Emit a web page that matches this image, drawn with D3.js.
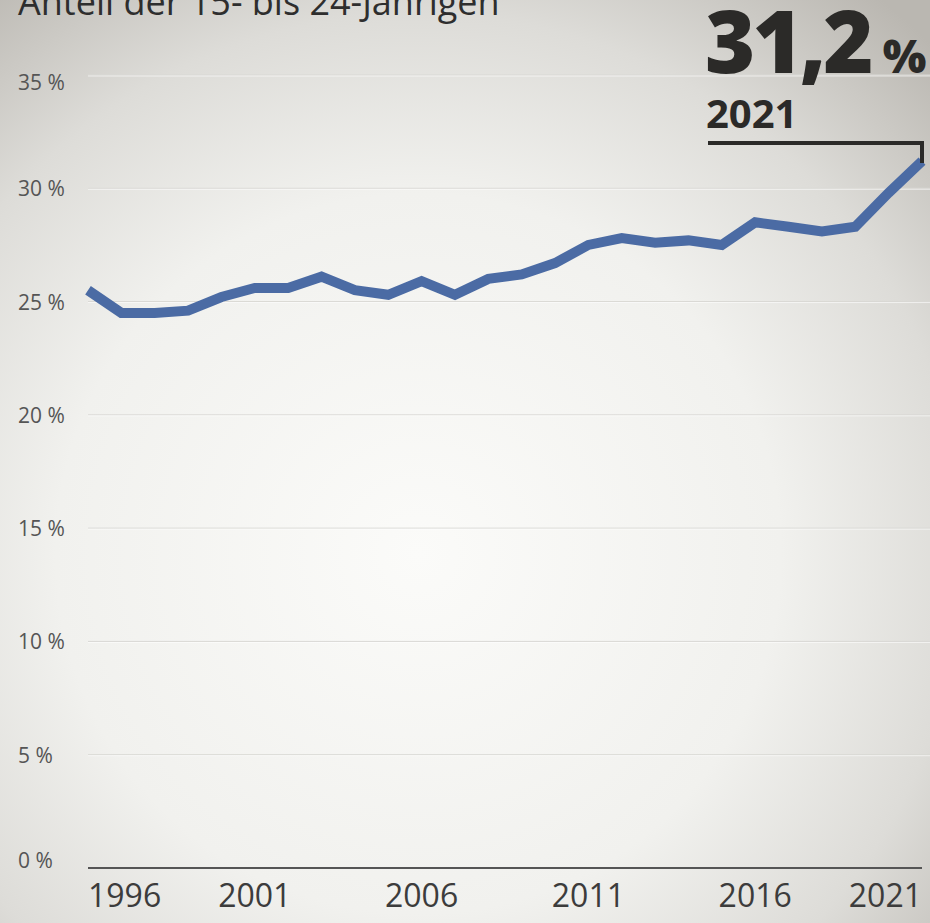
<!DOCTYPE html>
<html>
<head>
<meta charset="utf-8">
<script src="https://cdn.jsdelivr.net/npm/d3@7"></script>
<style>
  html, body { margin: 0; padding: 0; overflow: hidden; }
  svg { display: block; }
</style>
</head>
<body>
<svg id="chart" width="930" height="923"></svg>
<script>
// Anteil der 15- bis 24-Jährigen, 1996-2021
var years = [1996, 1997, 1998, 1999, 2000, 2001, 2002, 2003, 2004, 2005, 2006, 2007, 2008,
             2009, 2010, 2011, 2012, 2013, 2014, 2015, 2016, 2017, 2018, 2019, 2020, 2021];
var shares = [25.5, 24.5, 24.5, 24.6, 25.2, 25.6, 25.6, 26.1, 25.5, 25.3, 25.9, 25.3, 26.0,
              26.2, 26.7, 27.5, 27.8, 27.6, 27.7, 27.5, 28.5, 28.3, 28.1, 28.3, 29.8, 31.2];
var yTicks = [0, 5, 10, 15, 20, 25, 30, 35];
var xTicks = [1996, 2001, 2006, 2011, 2016, 2021];
var title = "Anteil der 15- bis 24-Jährigen";
var highlight = {value: "31,2", year: "2021"};

var svg = d3.select("#chart");
var width = +svg.attr("width"), height = +svg.attr("height");
var margin = {top: 75, right: 8, bottom: 55, left: 88};

// background
var defs = svg.append("defs");
var grad = defs.append("radialGradient")
    .attr("id", "bg")
    .attr("cx", "45%").attr("cy", "60%").attr("r", "78%");
grad.append("stop").attr("offset", "0%").attr("stop-color", "#fbfbf9");
grad.append("stop").attr("offset", "50%").attr("stop-color", "#f1f1ee");
grad.append("stop").attr("offset", "75%").attr("stop-color", "#dddcd8");
grad.append("stop").attr("offset", "100%").attr("stop-color", "#bab7b1");
svg.append("rect").attr("width", width).attr("height", height).attr("fill", "url(#bg)");

var x = d3.scaleLinear().domain([1996, 2021]).range([margin.left, width - margin.right]);
var y = d3.scaleLinear().domain([0, 35]).range([height - margin.bottom, margin.top]);

// grid
var grid = svg.append("g")
    .selectAll("g")
    .data(yTicks.filter(function(d) { return d > 0; }))
    .enter().append("g");
grid.append("line")
    .attr("x1", margin.left).attr("x2", width)
    .attr("y1", function(d) { return y(d); }).attr("y2", function(d) { return y(d); })
    .attr("stroke", "#d9d8d4").attr("stroke-width", 1);
grid.append("line")
    .attr("x1", margin.left).attr("x2", width)
    .attr("y1", function(d) { return y(d) + 1; }).attr("y2", function(d) { return y(d) + 1; })
    .attr("stroke", "#ffffff").attr("stroke-opacity", 0.6).attr("stroke-width", 1);

// y labels
svg.append("g")
    .selectAll("text")
    .data(yTicks)
    .enter().append("text")
    .attr("x", 18)
    .attr("y", function(d) { return d === 35 ? y(d) + 15 : (d === 0 ? y(d) : y(d) + 8); })
    .attr("font-family", "Open Sans")
    .attr("font-size", 21)
    .attr("fill", "#555")
    .text(function(d) { return d + " %"; });

// baseline
svg.append("line")
    .attr("x1", margin.left).attr("x2", width - margin.right)
    .attr("y1", y(0)).attr("y2", y(0))
    .attr("stroke", "#555").attr("stroke-width", 2);

// x labels
svg.append("g")
    .selectAll("text")
    .data(xTicks)
    .enter().append("text")
    .attr("x", function(d) { return x(d); })
    .attr("y", 907)
    .attr("text-anchor", function(d, i) { return i === 0 ? "start" : (i === xTicks.length - 1 ? "end" : "middle"); })
    .attr("font-family", "Open Sans")
    .attr("font-size", 32)
    .attr("fill", "#3c3c3c")
    .text(function(d) { return d; });

// line
var data = years.map(function(d, i) { return {year: d, value: shares[i]}; });
svg.append("path")
    .datum(data)
    .attr("fill", "none")
    .attr("stroke", "#4b6ba4")
    .attr("stroke-width", 10)
    .attr("stroke-linejoin", "miter")
    .attr("d", d3.line().x(function(d) { return x(d.year); }).y(function(d) { return y(d.value); }));

// title (cut at top)
svg.append("text")
    .attr("x", 18).attr("y", 15)
    .attr("font-family", "Open Sans")
    .attr("font-size", 36)
    .attr("font-weight", 500)
    .attr("fill", "#2e2e2e")
    .text(title);

// highlight annotation
var last = data[data.length - 1];
var ax = x(last.year);
var ann = svg.append("g");
var big = ann.append("text")
    .attr("x", 705).attr("y", 73)
    .attr("font-family", "Open Sans")
    .attr("font-weight", 800)
    .attr("fill", "#2b2a28");
big.append("tspan").attr("font-size", 86).attr("letter-spacing", -3).text(highlight.value);
big.append("tspan").attr("font-size", 46).attr("dx", 12).text("%");
ann.append("text")
    .attr("x", 706).attr("y", 128)
    .attr("font-family", "Open Sans")
    .attr("font-weight", 700)
    .attr("font-size", 40)
    .attr("fill", "#2b2a28")
    .text(highlight.year);
ann.append("path")
    .attr("d", "M708,143H" + ax + "V" + (y(last.value) + 2))
    .attr("fill", "none")
    .attr("stroke", "#2b2a28")
    .attr("stroke-width", 4);
</script>
</body>
</html>
